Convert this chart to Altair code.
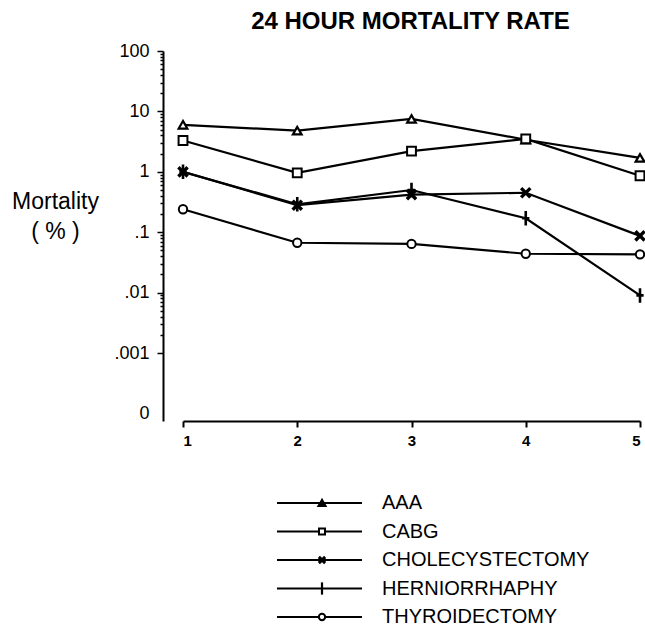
import altair as alt
import pandas as pd

# ---- data ----
series = ["AAA", "CABG", "CHOLECYSTECTOMY", "HERNIORRHAPHY", "THYROIDECTOMY"]
x_positions = [1, 2, 3, 4, 5]
aaa = [6.0, 4.8, 7.5, 3.4, 1.7]
cabg = [3.3, 0.96, 2.2, 3.5, 0.86]
chole = [1.0, 0.28, 0.42, 0.45, 0.087]
hernio = [1.0, 0.29, 0.5, 0.17, 0.009]
thyro = [0.24, 0.067, 0.064, 0.044, 0.043]

y_major = [0.0001, 0.001, 0.01, 0.1, 1, 10, 100]
y_major_labels = ["0", ".001", ".01", ".1", "1", "10", "100"]
y_minor = [k * 10 ** e for e in range(-3, 2) for k in range(2, 10)]
x_ticks = [1, 2, 3, 4, 5]

rows = []
for name, vals in zip(series, [aaa, cabg, chole, hernio, thyro]):
    for xv, v in zip(x_positions, vals):
        rows.append({"series": name, "x": xv, "rate": v})
df = pd.DataFrame(rows)
legend_df = pd.DataFrame({"series": series})

# ---- layout / styles ----
W, H = 477, 370
FONT = "Liberation Sans"

marker_styles = {
    "AAA": dict(shape="triangle-up", size=75, strokeWidth=2.2),
    "CABG": dict(shape="square", size=78, strokeWidth=2),
    "CHOLECYSTECTOMY": dict(shape="M-1,-1L1,1M-1,1L1,-1", size=85, strokeWidth=3.4),
    "HERNIORRHAPHY": dict(shape="M0,-1L0,1M-0.5,0L0.5,0", size=210, strokeWidth=2.6),
    "THYROIDECTOMY": dict(shape="circle", size=70, strokeWidth=2),
}
legend_marker_styles = {
    "AAA": dict(shape="triangle-up", size=40, strokeWidth=2.5),
    "CABG": dict(shape="square", size=36, strokeWidth=2),
    "CHOLECYSTECTOMY": dict(shape="M-1,-1L1,1M-1,1L1,-1", size=40, strokeWidth=3),
    "HERNIORRHAPHY": dict(shape="M0,-1L0,1", size=150, strokeWidth=2.2),
    "THYROIDECTOMY": dict(shape="circle", size=40, strokeWidth=2),
}

label_expr = "".join(
    f"datum.value == {v} ? '{l}' : " for v, l in zip(y_major, y_major_labels)
) + "''"
major_test = "indexof([" + ",".join(str(v) for v in y_major) + "], datum.value) >= 0"

xscale = alt.Scale(domain=[1, 5], range=[20, W], nice=False, zero=False)
yscale = alt.Scale(type="log", domain=[7.5e-5, 100], nice=False)

xaxis = alt.Axis(
    values=x_ticks, format="d", title=None, grid=False,
    labelFont=FONT, labelFontSize=15, labelFontWeight="bold", labelColor="black",
    tickSize=6, tickWidth=2, tickColor="black", domainWidth=2, domainColor="black",
    labelPadding=6,
)
yaxis = alt.Axis(
    values=y_major + y_minor, labelExpr=label_expr, labelOverlap=False, grid=False,
    labelFont=FONT, labelFontSize=18, labelColor="black", labelPadding=8,
    tickSize={"condition": {"test": major_test, "value": 6}, "value": 3},
    tickOpacity={"condition": {"test": "datum.value < 0.0005", "value": 0}, "value": 1},
    tickWidth=1.5, tickColor="black", domainWidth=2, domainColor="black",
    title=["Mortality", "( % )"], titleAngle=0, titleAlign="center", titleBaseline="top",
    titleX=-108, titleY=139, titleFont=FONT, titleFontSize=23, titleFontWeight="normal",
    titleColor="black", titleLineHeight=30,
)

X = alt.X("x:Q", scale=xscale, axis=xaxis)
Y = alt.Y("rate:Q", scale=yscale, axis=yaxis)

base = alt.Chart(df)
lines = base.mark_line(color="black", strokeWidth=2.2).encode(x=X, y=Y, detail="series:N")

point_layers = []
for name in series:
    st = marker_styles[name]
    point_layers.append(
        base.transform_filter(alt.datum.series == name)
        .mark_point(filled=True, fill="white", stroke="black", opacity=1, **st)
        .encode(x=X, y=Y)
    )
main = alt.layer(lines, *point_layers)

# ---- legend below the plot ----
LY = alt.Y(
    "series:N",
    scale=alt.Scale(type="point", domain=series, range=[452, 566], padding=0, paddingOuter=0),
    axis=None,
)
lbase = alt.Chart(legend_df)
lrules = lbase.mark_rule(color="black", strokeWidth=2).encode(
    x=alt.value(114), x2=alt.value(199), y=LY
)
lpoints = []
for name in series:
    st = legend_marker_styles[name]
    fill = "black" if name == "AAA" else "white"
    lpoints.append(
        lbase.transform_filter(alt.datum.series == name)
        .mark_point(filled=True, fill=fill, stroke="black", opacity=1, **st)
        .encode(x=alt.value(159), y=LY)
    )
ltext = lbase.mark_text(
    align="left", baseline="middle", font=FONT, fontSize=20, color="black"
).encode(x=alt.value(219), y=LY, text="series:N")
legend = alt.layer(lrules, *lpoints, ltext)

chart = (
    alt.layer(main, legend)
    .resolve_scale(y="independent")
    .properties(
        width=W, height=H,
        autosize=alt.AutoSizeParams(type="none"),
        padding={"left": 163, "top": 51, "right": 5, "bottom": 637 - 51 - H},
        title=alt.TitleParams(
            "24 HOUR MORTALITY RATE", font=FONT, fontSize=24, fontWeight="bold",
            anchor="middle", offset=8, dx=9, color="black",
        ),
        background="white",
    )
    .configure_view(stroke=None)
)

chart.save("out.html", embed_options={"renderer": "svg", "actions": False})
